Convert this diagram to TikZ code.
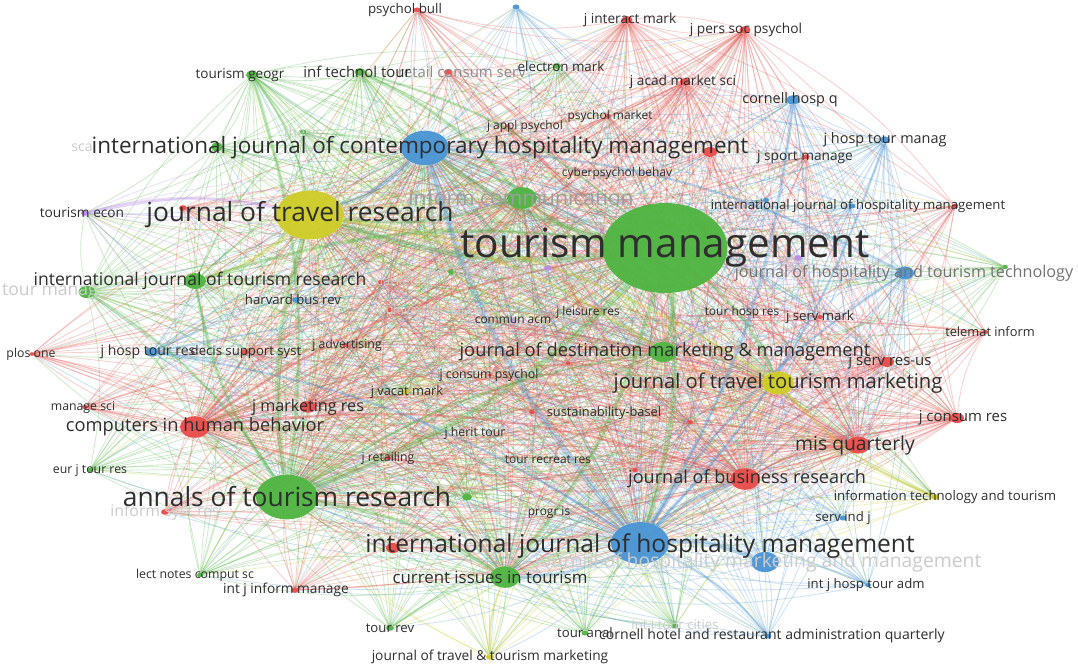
\documentclass[tikz,border=0pt]{standalone}
\usepackage{fontspec}
\setmainfont{Open Sans}
\usetikzlibrary{shapes.geometric,backgrounds}

\definecolor{vosgreen}{RGB}{78,180,64}
\definecolor{vosred}{RGB}{232,74,72}
\definecolor{vosblue}{RGB}{72,148,212}
\definecolor{vosyellow}{RGB}{206,204,38}
\definecolor{vospurple}{RGB}{184,140,230}

\begin{document}
\begin{tikzpicture}[x=0.2mm, y=-0.2mm]

        \def\px{0.2mm}      % one pixel of the map
        \def\flat{0.72}     % height/width of the bubbles
        \tikzset{bubble/.style={ellipse, fill=#1, inner sep=0pt, opacity=.95}}
        \tikzset{lbl/.style={font={\fontsize{#1pt}{#1pt}\selectfont}, text=black!82, inner sep=0pt}}
        \tikzset{faint/.style={lbl=#1, text=black!20}}
        \tikzset{link/.style={draw=#1, opacity=.27, line width=.45pt}}
        \def\alllist{tm,atr,ijtr,jdmm,ic,cit,tmg,tg,itt,em,ths,scj,tfs,ejtr,lncs,trev,tanal,ijtc,tres,gx,jtr,jttm,jvm,itt2,jtt,ijchm,ijhm,jhmm,jhtt,chq,jhtm,jhtr,hbr,sij,ijhta,chraq,bx,ijhmb,bx2,chb,jbr,misq,jmr,jim,jpsp,jams,pb,rcs,pm,jap,rx1,jsm,ijhmr,ti,jsmk,jsr,jcr,ja,mda,mkt,dss,po,ms,jret,isr,ijim,rx2,rx3,rx4,rx5,rx6,jcp,sb,te,px1,px2,ca}
        \def\greenlist{tm,atr,jtr,ijhm,ijchm,ijtr,jdmm,ic,cit,tmg,tg,itt,em,ths,scj,tfs,ejtr,lncs,trev,tanal,ijtc,tres,gx,jttm,chb,te,jvm,jtt,itt2}
        \def\redlist{tm,atr,jtr,ijhm,ijchm,chb,jbr,misq,jmr,jim,jpsp,jams,pb,rcs,pm,jap,rx1,jsm,ijhmr,ti,jsmk,jsr,jcr,ja,mda,mkt,dss,po,ms,jret,isr,ijim,rx2,rx3,rx4,rx5,jcp,sb,ic,jdmm,jttm,cit}
        \def\bluelist{tm,atr,jtr,ijhm,ijchm,jhmm,jhtt,chq,jhtm,jhtr,hbr,sij,ijhta,chraq,bx,ijhmb,bx2,jbr,misq,jsr,cit,jttm,jdmm,ic}
        \def\corelist{tm,atr,jtr,ijhm,ijchm,chb,jbr,misq,ic,jdmm,cit,jttm}

        \useasboundingbox (0,0) rectangle (1078,668);

        % Draw the journals
            \foreach \n/\x/\y/\w/\c in {
                tm/665/248/125/vosgreen, atr/287/497/62/vosgreen, ijtr/195/281/22/vosgreen,
                jdmm/663/352/28/vosgreen, ic/522/198/30/vosgreen, cit/505/577/30/vosgreen,
                tmg/87/292/17/vosgreen, tg/252/75/12/vosgreen, itt/360/72/11/vosgreen,
                em/557/66/8/vosgreen, ths/303/132/7/vosgreen, scj/217/147/12/vosgreen,
                tfs/452/272/8/vosgreen, ejtr/90/470/6/vosgreen, lncs/200/575/6/vosgreen,
                trev/390/628/8/vosgreen, tanal/585/633/7/vosgreen, ijtc/675/626/7/vosgreen,
                tres/467/497/10/vosgreen, gx/1005/267/6/vosgreen,
                jtr/310/215/68/vosyellow, jttm/778/383/32/vosyellow, jvm/405/392/8/vosyellow,
                itt2/935/497/8/vosyellow, jtt/490/657/8/vosyellow,
                ijchm/425/148/48/vosblue, ijhm/640/543/58/vosblue, jhmm/765/562/28/vosblue,
                jhtt/905/273/18/vosblue, chq/793/100/13/vosblue, jhtm/885/140/10/vosblue,
                jhtr/152/352/13/vosblue, hbr/296/300/8/vosblue, sij/843/518/7/vosblue,
                ijhta/868/585/6/vosblue, chraq/768/636/7/vosblue, bx/516/7/7/vosblue,
                ijhmb/852/206/7/vosblue, bx2/766/200/6/vosblue,
                chb/195/427/30/vosred, jbr/745/479/30/vosred, misq/858/445/24/vosred,
                jmr/308/407/16/vosred, jim/627/20/11/vosred, jpsp/745/30/11/vosred,
                jams/685/82/11/vosred, pb/417/10/7/vosred, rcs/448/72/8/vosred,
                pm/608/116/6/vosred, jap/508/126/5/vosred, rx1/710/152/14/vosred,
                jsm/806/157/7/vosred, ijhmr/955/206/7/vosred, ti/985/332/6/vosred,
                jsmk/820/317/6/vosred, jsr/887/362/14/vosred, jcr/957/418/14/vosred,
                ja/345/345/6/vosred, mda/390/310/6/vosred, mkt/381/282/6/vosred,
                dss/245/352/8/vosred, po/32/354/5/vosred, ms/85/407/6/vosred,
                jret/388/458/6/vosred, isr/165/512/8/vosred, ijim/295/590/8/vosred,
                rx2/183/208/8/vosred, rx3/393/548/14/vosred, rx4/690/422/6/vosred,
                rx5/635/470/6/vosred, rx6/568/363/5/vosred, jcp/490/375/4/vosred,
                sb/532/412/6/vosred,
                te/85/213/8/vospurple, px1/548/268/8/vospurple, px2/798/258/8/vospurple,
                ca/512/320/4/vospurple}{
                \node[bubble=\c, minimum width=\w*\px, minimum height=\w*\px*\flat] (\n) at (\x,\y) {};
            }

        % Connect the journals (links take the colour of the citing cluster)
        \begin{scope}[on background layer]
            \fill[white] (0,0) rectangle (1078,668);
            \foreach \s/\c in {tm/vosgreen, atr/vosgreen, jtr/vosyellow, ijhm/vosblue, ijchm/vosblue}{
                \foreach \t in \alllist {\ifx\s\t\else\draw[link=\c] (\s) to[bend left=12] (\t);\fi}
            }
            \foreach \s in {ijtr,jdmm,ic,cit,tmg,tg,itt}{
                \foreach \t in \greenlist {\ifx\s\t\else\draw[link=vosgreen] (\s) to[bend left=12] (\t);\fi}
            }
            \foreach \t in \greenlist {\draw[link=vosyellow] (jttm) to[bend left=12] (\t);}
            \foreach \s in {chb,jbr,misq,jmr,jim,jpsp,jams,jsr,jcr}{
                \foreach \t in \redlist {\ifx\s\t\else\draw[link=vosred] (\s) to[bend left=12] (\t);\fi}
            }
            \foreach \s in {jhmm,jhtt,chq,jhtm,jhtr}{
                \foreach \t in \bluelist {\ifx\s\t\else\draw[link=vosblue] (\s) to[bend left=12] (\t);\fi}
            }
            \foreach \s/\c in {em/vosgreen, ths/vosgreen, scj/vosgreen, tfs/vosgreen, ejtr/vosgreen,
                lncs/vosgreen, trev/vosgreen, tanal/vosgreen, ijtc/vosgreen, tres/vosgreen, gx/vosgreen,
                jvm/vosyellow, itt2/vosyellow, jtt/vosyellow,
                hbr/vosblue, sij/vosblue, ijhta/vosblue, chraq/vosblue, bx/vosblue, ijhmb/vosblue, bx2/vosblue,
                pb/vosred, rcs/vosred, pm/vosred, jap/vosred, rx1/vosred, jsm/vosred, ijhmr/vosred,
                ti/vosred, jsmk/vosred, ja/vosred, mda/vosred, mkt/vosred, dss/vosred, po/vosred,
                ms/vosred, jret/vosred, isr/vosred, ijim/vosred, rx2/vosred, rx3/vosred, rx4/vosred,
                rx5/vosred, rx6/vosred, jcp/vosred, sb/vosred,
                te/vospurple, px1/vospurple, px2/vospurple, ca/vospurple}{
                \foreach \t in \corelist {\draw[link=\c] (\s) to[bend left=12] (\t);}
            }
        % Strong links
            \foreach \a/\b/\c/\w in {tm/jtr/vosgreen/3.5, tm/atr/vosgreen/3.5, tm/ijhm/vosgreen/3,
                tm/ijchm/vosgreen/3, atr/jtr/vosgreen/3, ijhm/ijchm/vosblue/3.5, tm/jdmm/vosgreen/2.5,
                tm/cit/vosgreen/2.5, atr/ijtr/vosgreen/2, ijhm/jhmm/vosblue/3, tm/ic/vosgreen/2.5,
                jtr/ijtr/vosyellow/2, ijchm/jtr/vosblue/2.5, tm/jttm/vosgreen/2.5, ijhm/jbr/vosblue/2,
                te/jtr/vospurple/2, tg/atr/vosgreen/2, tg/jtr/vosgreen/1.5, itt/ic/vosgreen/2,
                itt/tm/vosgreen/1.5, chq/ijhm/vosblue/2, jhtm/ijhm/vosblue/1.5, ijhm/cit/vosblue/2,
                atr/cit/vosgreen/2, atr/jdmm/vosgreen/1.5, jtr/jdmm/vosyellow/1.5, ijtr/tm/vosgreen/2,
                ijchm/jhtt/vosblue/1.5, ijhm/jhtt/vosblue/1.5, ijhm/chraq/vosblue/1.5, chb/jbr/vosred/1.5,
                jtr/jttm/vosyellow/2, ic/jtr/vosgreen/1.5, jhtr/ijhm/vosblue/1.5, tmg/atr/vosgreen/1.5,
                chb/tm/vosred/1.5, jbr/misq/vosred/1.2, itt2/jttm/vosyellow/1.5, jtt/cit/vosyellow/1.5}{
                \draw[link=\c, line width=\w pt] (\a) to[bend left=12] (\b);
            }
        \end{scope}

        % Hidden labels
            \foreach \n/\x/\y/\s/\t in {
                jhmm-l/758/562/11/{journal of hospitality marketing and management},
                tfs-l/465/272/8/{technol forecast soc}, tmg-l/50/292/10/{tour manag},
                sca-l/82/148/8/{sca}, ths-l/303/132/8/{thesis}, mkt-l/402/282/7.5/{marketing},
                mda-l/432/310/7/{multivariate data an}, isr-l/165/512/9/{inform syst res},
                ijtc-l/675/626/7.5/{int j tour cities}}{
                \node[faint=\s] (\n) at (\x,\y) {\t};
            }
            \node[lbl=12, text=black!38] (ic-l) at (521,198) {inform communication};
            \node[lbl=8.5, text=black!45] (rcs-l) at (462,72) {retail consum serv};
            \node[lbl=9.2, text=black!55] (jhtt-l) at (904,273) {journal of hospitality and tourism technology};

        % Annotate the journals
            \foreach \n/\x/\y/\s/\t in {tm-l/665/248/23/{tourism management},
                jtr-l/300/215/15/{journal of travel research},
                ijchm-l/420/148/12.8/{international journal of contemporary hospitality management},
                atr-l/287/497/15/{annals of tourism research},
                ijhm-l/640/546/14/{international journal of hospitality management},
                ijtr-l/200/281/10/{international journal of tourism research},
                jdmm-l/665/352/10.4/{journal of destination marketing \& management},
                jttm-l/778/383/11.5/{journal of travel tourism marketing},
                chb-l/195/427/10.4/{computers in human behavior},
                jbr-l/747/479/10.3/{journal of business research},
                misq-l/855/445/11/{mis quarterly},
                cit-l/490/577/9.6/{current issues in tourism},
                jmr-l/308/407/9.2/{j marketing res},
                itt-l/357/72/8.5/{inf technol tour},
                tg-l/240/75/7.7/{tourism geogr},
                pb-l/405/10/7.6/{psychol bull},
                em-l/561/66/7.6/{electron mark},
                jim-l/630/20/7.8/{j interact mark},
                jpsp-l/746/30/7.8/{j pers soc psychol},
                jams-l/683/82/7.8/{j acad market sci},
                chq-l/790/100/8.2/{cornell hosp q},
                jhtm-l/885/140/8.2/{j hosp tour manag},
                jsm-l/805/157/7.8/{j sport manage},
                ijhmb-l/858/206/7.5/{international journal of hospitality management},
                te-l/82/213/7.8/{tourism econ},
                jhtr-l/148/352/8/{j hosp tour res},
                dss-l/246/352/7.5/{decis support syst},
                po-l/31/354/7/{plos one},
                ms-l/83/407/7/{manage sci},
                ejtr-l/90/470/7/{eur j tour res},
                lncs-l/195/575/7/{lect notes comput sc},
                ijim-l/286/590/7.8/{int j inform manage},
                trev-l/390/628/7.5/{tour rev},
                jtt-l/490/657/7.8/{journal of travel \& tourism marketing},
                tanal-l/585/633/7.5/{tour anal},
                chraq-l/772/636/8/{cornell hotel and restaurant administration quarterly},
                ijhta-l/866/585/7.5/{int j hosp tour adm},
                sij-l/843/518/7.5/{serv ind j},
                itt2-l/945/497/7.5/{information technology and tourism},
                jcr-l/963/418/8.5/{j consum res},
                jsr-l/890/362/8.5/{j serv res-us},
                ti-l/990/332/7.3/{telemat inform},
                jsmk-l/820/317/7.5/{j serv mark},
                thr-l/742/312/6.8/{tour hosp res},
                jlr-l/588/312/6.8/{j leisure res},
                ca-l/513/320/6.8/{commun acm},
                ja-l/347/345/7/{j advertising},
                jcp-l/489/375/7/{j consum psychol},
                jvm-l/407/392/7.3/{j vacat mark},
                sb-l/604/413/7.3/{sustainability-basel},
                jht-l/475/433/7/{j herit tour},
                jret-l/388/458/7/{j retailing},
                trr-l/548/460/6.8/{tour recreat res},
                pis-l/549/513/6.8/{progr is},
                jap-l/525/126/6.8/{j appl psychol},
                pm-l/610/116/6.8/{psychol market},
                cpb-l/617/173/6.8/{cyberpsychol behav},
                hbr-l/293/300/7.5/{harvard bus rev}}{
                \node[lbl=\s] (\n) at (\x,\y) {\t};
            }

\end{tikzpicture}
\end{document}
